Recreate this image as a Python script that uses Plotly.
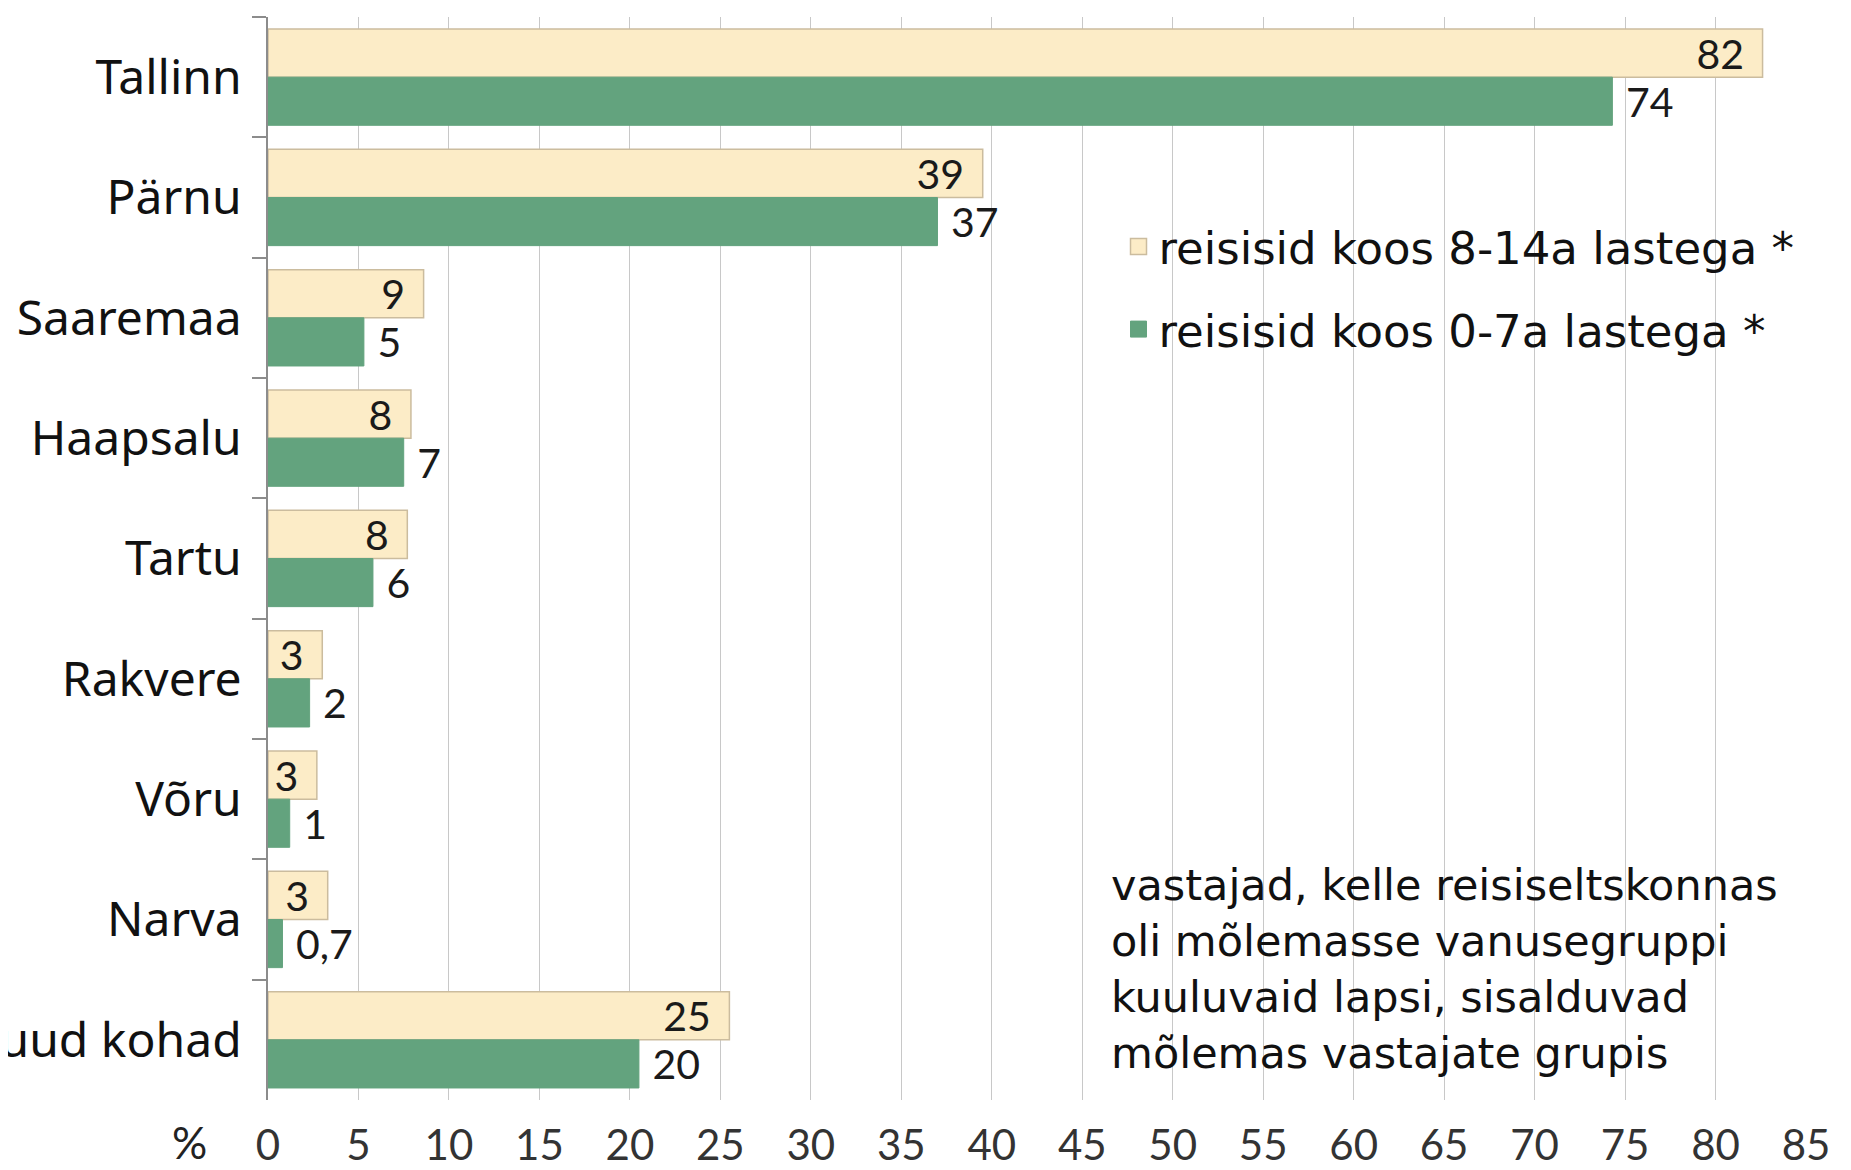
import plotly.graph_objects as go

categories = ["Tallinn", "Pärnu", "Saaremaa", "Haapsalu", "Tartu", "Rakvere", "Võru", "Narva", "Muud kohad"]
older_values = [82.6, 39.5, 8.6, 7.9, 7.7, 3.0, 2.7, 3.3, 25.5]
older_labels = ["82", "39", "9", "8", "8", "3", "3", "3", "25"]
younger_values = [74.3, 37.0, 5.3, 7.5, 5.8, 2.3, 1.2, 0.8, 20.5]
younger_labels = ["74", "37", "5", "7", "6", "2", "1", "0,7", "20"]
x_ticks = list(range(0, 90, 5))

series_names = ["reisisid koos 8-14a lastega *", "reisisid koos 0-7a lastega *"]
note_text = ("vastajad, kelle reisiseltskonnas<br>oli mõlemasse vanusegruppi<br>"
             "kuuluvaid lapsi, sisalduvad<br>mõlemas vastajate grupis")

YELLOW = "#FCECC7"
YELLOW_LINE = "#CBBC9E"
GREEN = "#63A37E"
NUM_FONT = "Lato"
TXT_FONT = "DejaVu Sans"
CAT_FONT = "Noto Sans"

fig = go.Figure()
fig.add_trace(go.Bar(
    y=categories, x=older_values, orientation="h", name=series_names[0],
    marker=dict(color=YELLOW, line=dict(color=YELLOW_LINE, width=1.5)),
    text=[t + "\u00a0\u2009" for t in older_labels], textposition="inside",
    insidetextanchor="end", textangle=0, constraintext="none",
    textfont=dict(family=NUM_FONT, size=41, color="#1a1a1a"),
    showlegend=False, hoverinfo="skip",
))
fig.add_trace(go.Bar(
    y=categories, x=younger_values, orientation="h", name=series_names[1],
    marker=dict(color=GREEN, line=dict(color=GREEN, width=1)),
    text=["\u00a0" + t for t in younger_labels], textposition="outside",
    textangle=0, constraintext="none", cliponaxis=False,
    textfont=dict(family=NUM_FONT, size=41, color="#1a1a1a"),
    showlegend=False, hoverinfo="skip",
))
# legend keys (larger square swatches than the default bar key)
fig.add_trace(go.Scatter(
    x=[None], y=[None], mode="markers", name=series_names[0], legendgroup="a",
    marker=dict(symbol="square", size=16, color=YELLOW, line=dict(color=YELLOW_LINE, width=1.5)),
))
fig.add_trace(go.Scatter(
    x=[None], y=[None], mode="markers", name=series_names[1], legendgroup="b",
    marker=dict(symbol="square", size=16, color=GREEN, line=dict(color=GREEN, width=1)),
))

# white boxes behind legend and note (between gridlines and traces)
fig.add_shape(type="rect", xref="x", yref="paper", x0=45.5, x1=84.5, y0=0.672, y1=0.808,
              fillcolor="white", line=dict(width=0), layer="between")
fig.add_shape(type="rect", xref="x", yref="paper", x0=45.5, x1=84.5, y0=0.008, y1=0.214,
              fillcolor="white", line=dict(width=0), layer="between")

fig.add_annotation(xref="paper", yref="paper", x=0.547, y=0.121, xanchor="left", yanchor="middle",
                   text=note_text, showarrow=False, align="left",
                   font=dict(family=TXT_FONT, size=43, color="#111"))
fig.add_annotation(xref="paper", yref="paper", x=-0.051, y=-0.039, xanchor="center", yanchor="middle",
                   text="%", showarrow=False, font=dict(family=NUM_FONT, size=44, color="#222"))

# the page body adds an 8px offset, so margins are shifted to compensate
fig.update_layout(
    width=1851, height=1170,
    margin=dict(l=260, r=53, t=9, b=78),
    paper_bgcolor="white", plot_bgcolor="white",
    barmode="group", bargap=0.2, bargroupgap=0,
    showlegend=True,
    legend=dict(x=0.553, y=0.821, xanchor="left", yanchor="top",
                font=dict(family=TXT_FONT, size=45, color="#111"),
                bgcolor="rgba(0,0,0,0)", traceorder="grouped", tracegroupgap=21),
)
fig.update_xaxes(range=[0, 85], tickvals=x_ticks, ticktext=[str(v) for v in x_ticks],
                 showgrid=True, gridcolor="#C8C8C8", gridwidth=1, zeroline=False,
                 showline=False, ticks="", ticklabelstandoff=17, automargin=False,
                 tickfont=dict(family=NUM_FONT, size=42, color="#333"))
fig.update_yaxes(autorange="reversed", showline=True, linecolor="#8C8C8C", linewidth=1.5,
                 ticks="outside", tickson="boundaries", ticklen=14, tickcolor="#8C8C8C",
                 tickwidth=1.5, showgrid=False, ticklabelstandoff=15, automargin=False,
                 tickfont=dict(family=CAT_FONT, size=48, color="#111"))

fig.write_html("out.html")
